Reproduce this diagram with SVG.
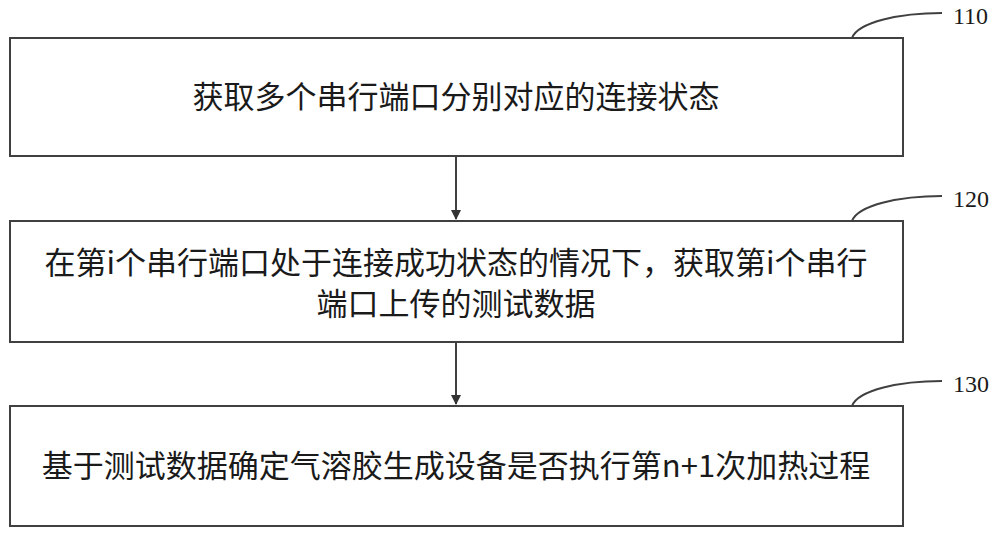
<svg xmlns="http://www.w3.org/2000/svg" width="1000" height="534" viewBox="0 0 1000 534">
<style>
.box{fill:#fff;stroke:#404040;stroke-width:2}
.t{font-family:"Noto Sans CJK SC","Noto Sans CJK JP",sans-serif;font-size:31px;fill:#1a1a1a;text-anchor:middle}
.n{font-family:"Liberation Serif",serif;font-size:24px;fill:#1a1a1a}
.c{fill:none;stroke:#404040;stroke-width:2}
</style>
<defs><marker id="a" markerWidth="10" markerHeight="10" refX="9" refY="5" orient="auto" markerUnits="userSpaceOnUse" viewBox="0 0 10 10"><path d="M0,0L10,5L0,10z" fill="#333"/></marker></defs>
<rect width="1000" height="534" fill="#fff"/>
<g id="n110"><rect class="box" x="10" y="38" width="893" height="118"/><text class="t" x="456" y="108">获取多个串行端口分别对应的连接状态</text></g>
<g id="n120"><rect class="box" x="10" y="221" width="893" height="121"/><text class="t" x="456" y="274">在第i个串行端口处于连接成功状态的情况下，获取第i个串行</text><text class="t" x="456" y="315">端口上传的测试数据</text></g>
<g id="n130"><rect class="box" x="10" y="406" width="893" height="120"/><text class="t" x="456" y="477">基于测试数据确定气溶胶生成设备是否执行第n+1次加热过程</text></g>
<g id="connectors">
<path class="c" d="M456,156V219" marker-end="url(#a)"/>
<path class="c" d="M456,342V404" marker-end="url(#a)"/>
<path class="c" d="M852,38C858,22 900,13 942,13"/>
<path class="c" d="M852,221C858,205 900,196 942,196"/>
<path class="c" d="M852,406C858,390 900,381 942,381"/>
</g>
<text class="n" x="953" y="24">110</text>
<text class="n" x="953" y="207">120</text>
<text class="n" x="953" y="392">130</text>
</svg>
